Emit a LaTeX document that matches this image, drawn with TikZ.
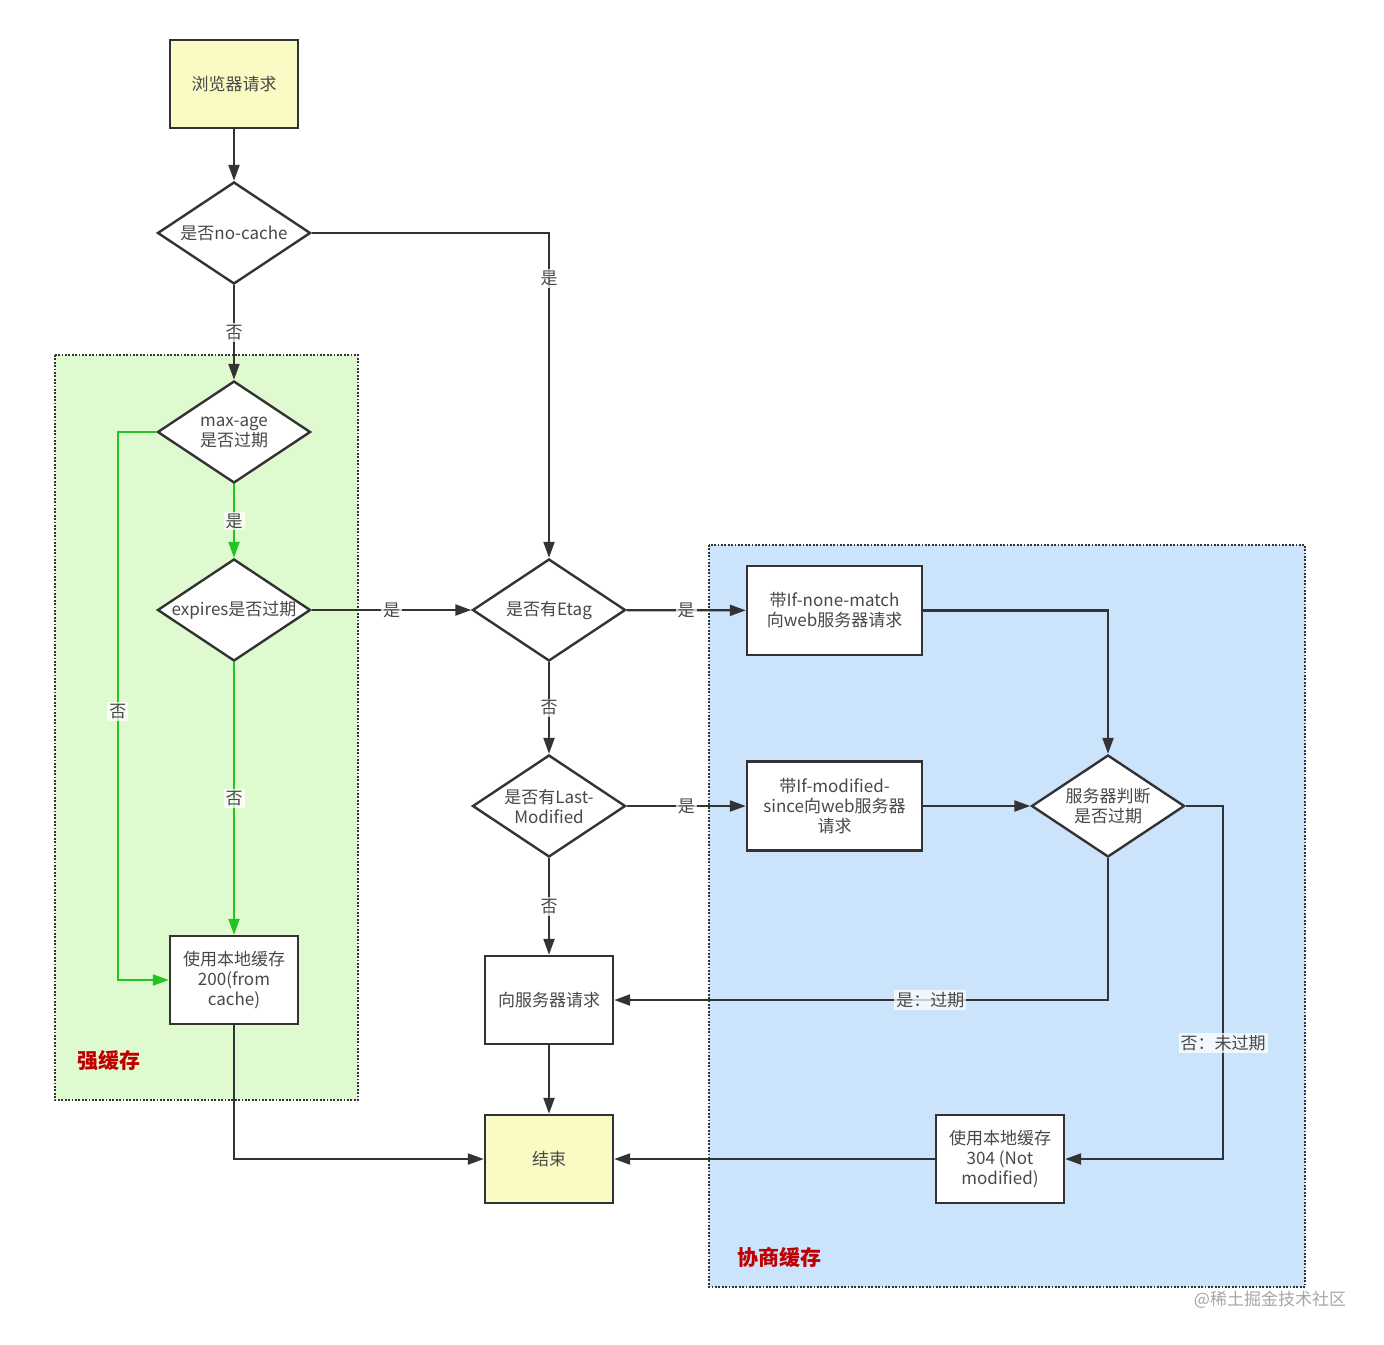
\documentclass[tikz,border=0pt]{standalone}
\usepackage{fontspec}
\newfontfamily\cjk{Noto Sans CJK SC}
\usetikzlibrary{arrows.meta}
\usetikzlibrary{shapes.geometric}

\definecolor{lineclr}{HTML}{333333}
\definecolor{txtclr}{HTML}{484848}
\definecolor{greenln}{HTML}{22C322}
\definecolor{greenbg}{HTML}{E0FAD0}
\definecolor{bluebg}{HTML}{CBE4FB}
\definecolor{yelbg}{HTML}{FAFAC4}
\definecolor{tagred}{HTML}{C00000}

\begin{document}
\begin{tikzpicture}[
  x=0.5pt,y=-0.5pt,
  >={Triangle[length=8pt,width=5.5pt]},
  every node/.style={font=\cjk\fontsize{8.5}{10}\selectfont,text=txtclr},
  term/.style={draw=lineclr,rectangle,line width=1.2pt,fill=white,align=center,minimum width=64pt,minimum height=44pt,inner sep=1pt},
  wide/.style={term,minimum width=87.5pt,minimum height=44.5pt},
  ends/.style={term,fill=yelbg},
  test/.style={draw=lineclr,diamond,line width=1.2pt,fill=white,align=center,shape aspect=1.5,minimum width=76.5pt,minimum height=51pt,inner sep=0pt},
  flow/.style={->,draw=lineclr,line width=1.1pt},
  gflow/.style={->,draw=greenln,line width=1.1pt},
  tag/.style={fill=white,fill opacity=0.75,text opacity=1,inner sep=1pt},
  area/.style={draw=lineclr,line width=1.1pt,dash pattern=on 0.9pt off 0.8pt},
  title/.style={font=\cjk\fontsize{10.5}{12}\selectfont\bfseries,text=tagred}]

  \useasboundingbox (0,0) rectangle (1384,1344);

  % the two cache areas
  \path[area,fill=greenbg] (55,355) rectangle (358,1100);
  \path[area,fill=bluebg] (709,545) rectangle (1305,1287);
  \node[title] (strong) at (109,1061) {强缓存};
  \node[title] (nego) at (779,1257) {协商缓存};

  \node [ends] (start) at (234,84) {浏览器请求};
  \node [test] (nocache) at (234,233) {是否no-cache};
  \node [test] (maxage) at (234,432) {max-age\\是否过期};
  \node [test] (expires) at (234,610) {expires是否过期};
  \node [term] (local) at (234,980) {使用本地缓存\\200(from\\cache)};
  \node [test] (etag) at (549,610) {是否有Etag};
  \node [test] (lastmod) at (549,806) {是否有Last-\\Modified};
  \node [term] (request) at (549,1000) {向服务器请求};
  \node [ends] (finish) at (549,1159) {结束};
  \node [wide] (nonematch) at (834.5,610.5) {带If-none-match\\向web服务器请求};
  \node [wide] (modsince) at (834.5,806) {带If-modified-\\since向web服务器\\请求};
  \node [test] (server) at (1108,806) {服务器判断\\是否过期};
  \node [term] (notmod) at (1000,1159) {使用本地缓存\\304 (Not\\modified)};

  \node[text=gray!70] (mark) at (1270,1300) {@稀土掘金技术社区};

  % strong cache
  \draw[flow] (start) -- (nocache);
  \draw[flow] (nocache) -- node[tag]{否} (maxage);
  \draw[gflow] (maxage) -- node[tag]{是} (expires);
  \draw[gflow] (expires) -- node[tag]{否} (local);
  \draw[gflow] (maxage.west) -| ([xshift=-25.5pt]local.west) node[tag,pos=0.755]{否} -- (local.west);
  \draw[flow] (nocache.east) -| node[tag,pos=0.57]{是} (etag.north);
  \draw[flow] (expires) -- node[tag]{是} (etag);
  \draw[flow] (etag) -- node[tag]{否} (lastmod);
  \draw[flow] (lastmod) -- node[tag]{否} (request);
  \draw[flow] (request) -- (finish);
  \draw[flow] (local.south) |- (finish.west);

  % negotiated cache
  \draw[flow] (etag) -- node[tag]{是} (nonematch);
  \draw[flow] (lastmod) -- node[tag]{是} (modsince);
  \draw[flow] (nonematch.east) -| (server.north);
  \draw[flow] (modsince) -- (server);
  \draw[flow] (server.south) |- node[tag,pos=0.68]{是：过期} (request.east);
  \draw[flow] (server.east) -| ([xshift=79pt]notmod.east) node[tag,pos=0.836]{否：未过期} -- (notmod.east);
  \draw[flow] (notmod) -- (finish);

\end{tikzpicture}
\end{document}
